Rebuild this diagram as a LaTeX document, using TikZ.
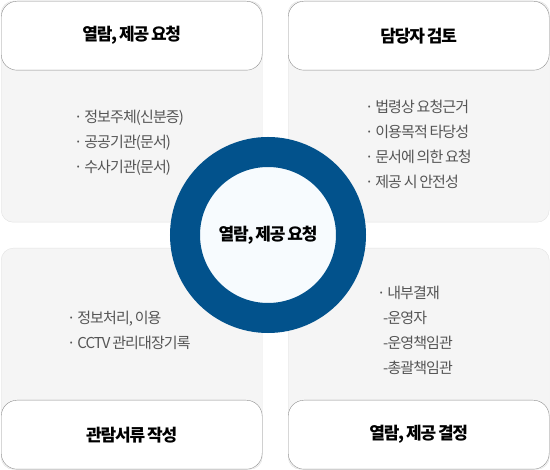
\documentclass[tikz,border=0pt]{standalone}
\usepackage{fontspec}
\setmainfont{Noto Sans CJK KR}
\newfontfamily\itemfont{Noto Sans CJK KR}[LetterSpace=-6, WordSpace=0.7]
\newfontfamily\headfont{Noto Sans CJK KR}[LetterSpace=-7, WordSpace=0.7]
\usetikzlibrary{positioning}
\definecolor{ringblue}{HTML}{02528C}
\definecolor{panelgray}{HTML}{F5F5F5}
\definecolor{panelline}{HTML}{E2E2E2}
\definecolor{headline}{HTML}{8E8E8E}
\definecolor{itemtext}{HTML}{555555}
\definecolor{corefill}{HTML}{F7FBFE}
\tikzset{
 panel/.style={draw=panelline, fill=panelgray, rounded corners=12pt, minimum width=261pt, minimum height=221pt, inner sep=0pt},
 head/.style={draw=headline, fill=white, rounded corners=16pt, minimum width=261pt, minimum height=69pt, font=\headfont\fontsize{17}{20}\selectfont\bfseries},
 items/.style={align=left, text=itemtext, font=\itemfont\fontsize{15}{25}\selectfont, inner sep=0pt}
}
\begin{document}
\begin{tikzpicture}[x=1pt,y=-1pt]
\useasboundingbox (0,0) rectangle (550,470);
\node[panel, anchor=north west] (reqpanel) at (1,1) {};
\node[panel, anchor=north west] (checkpanel) at (288,1) {};
\node[panel, anchor=north west] (docpanel) at (1,248) {};
\node[panel, anchor=north west] (decpanel) at (288,248) {};
\node[head, anchor=north] (reqhead) at (reqpanel.north) {열람, 제공 요청};
\node[head, anchor=north] (checkhead) at (checkpanel.north) {담당자 검토};
\node[head, anchor=south] (dochead) at (docpanel.south) {관람서류 작성};
\node[head, anchor=south] (dechead) at (decpanel.south) {열람, 제공 결정};
% bullet lists
\node[items, anchor=west] (reqlist) at (74,143) {· 정보주체(신분증)\\· 공공기관(문서)\\· 수사기관(문서)};
\node[items, anchor=west] (checklist) at (365,144) {· 법령상 요청근거\\· 이용목적 타당성\\· 문서에 의한 요청\\· 제공 시 안전성};
\node[items, anchor=west] (doclist) at (67,330) {· 정보처리, 이용\\· CCTV 관리대장기록};
\node[items, anchor=west] (declist) at (377,330) {· 내부결재\\\hspace*{6pt}-운영자\\\hspace*{6pt}-운영책임관\\\hspace*{6pt}-총괄책임관};
% centre ring
\node[circle, draw=ringblue, line width=30pt, fill=corefill, minimum size=166pt, inner sep=0pt,
  font=\headfont\fontsize{17}{20}\selectfont\bfseries] (core) at (268,235) {열람, 제공 요청};
\end{tikzpicture}
\end{document}
